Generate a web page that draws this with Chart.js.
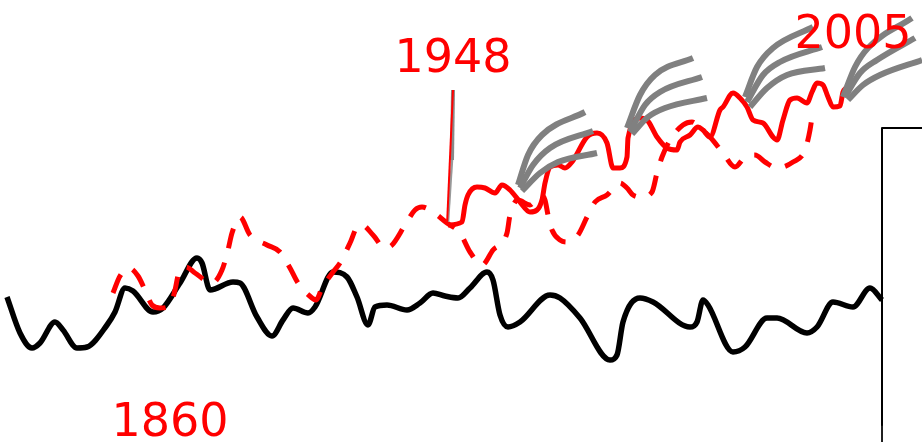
<!DOCTYPE html>
<html>
<head>
<meta charset="utf-8">
<script src="https://cdn.jsdelivr.net/npm/chart.js@4/dist/chart.umd.min.js"></script>
<style>
  html, body { margin: 0; padding: 0; background: #fff; }
  #sketch { display: block; }
</style>
</head>
<body>
<canvas id="sketch" width="922" height="442"></canvas>
<script>
// sketch units: x across, y down (same range as the picture)
const blackLine = [
  [7,297],[20,333],[32,348],[40,343],[55,322],[63,330],[77,348],[87,347],[107,325],[115,312],
  [125,288],[133,291],[153,312],[163,308],[180,283],[197,258],[202,263],[210,290],[233,282],
  [240,283],[257,317],[272,336],[283,320],[293,308],[308,313],[315,307],[333,272],[347,277],
  [357,297],[368,325],[375,307],[387,305],[407,310],[420,303],[433,293],[445,296],[458,298],
  [470,288],[487,272],[493,280],[500,315],[508,327],[520,322],[550,295],[560,298],[580,318],
  [610,360],[617,355],[623,322],[640,298],[653,302],[690,327],[697,322],[703,300],[708,305],
  [733,352],[745,347],[767,318],[777,318],[807,333],[817,327],[833,302],[853,307],[870,288],[882,300]
];

const redDashed = [
  [113,293],[120,276],[129,268],[138,276],[145,290],[152,305],[160,308],[170,306],[175,290],
  [179,272],[186,267],[195,273],[212,283],[222,270],[228,250],[232,233],[240,217],[250,235],
  [267,245],[280,252],[290,268],[298,283],[312,298],[316,300],[322,288],[333,272],[340,263],
  [350,243],[357,227],[362,225],[373,235],[385,248],[392,245],[405,225],[415,210],[422,207],
  [430,210],[447,223],[460,233],[470,252],[482,265],[493,250],[507,233],[510,215],[518,200],
  [530,205],[540,195],[545,200],[548,215],[552,230],[560,240],[567,242],[578,235],[587,217],
  [595,202],[607,195],[620,183],[627,188],[633,195],[642,197],[652,192],[657,173],[662,157],
  [670,140],[683,125],[692,122],[700,128],[710,137],[723,153],[735,167],[745,157],[755,155],
  [765,162],[777,168],[793,162],[805,150],[810,130],[813,110]
];

const redSolid = [
  [448,225],[462,222],[465,205],[468,195],[477,187],[485,188],[495,193],[502,185],[510,190],
  [520,202],[530,212],[537,210],[542,200],[545,183],[550,167],[558,165],[565,168],[572,162],
  [587,137],[597,133],[607,143],[613,168],[620,168],[627,157],[628,138],[640,118],[647,120],
  [657,137],[667,148],[677,150],[680,142],[690,135],[698,127],[703,130],[710,137],[720,110],
  [723,107],[733,93],[740,98],[747,107],[753,120],[763,123],[773,137],[777,140],[783,120],
  [790,100],[797,98],[807,103],[812,92],[817,83],[823,85],[828,97],[833,107],[840,106],[843,92],[846,88]
];

// projection fans: three curves each
const fans = [
  [[[518,185],[528,155],[542,135],[585,112]],
   [[520,188],[533,165],[550,148],[593,131]],
   [[522,191],[540,173],[558,162],[597,153]]],
  [[[627,128],[640,95],[655,75],[693,58]],
   [[630,132],[645,105],[660,92],[702,77]],
   [[632,134],[648,117],[665,108],[707,98]]],
  [[[745,97],[757,67],[773,48],[813,27]],
   [[747,102],[763,75],[780,62],[822,47]],
   [[750,107],[767,88],[787,75],[825,68]]],
  [[[843,97],[855,67],[868,48],[912,18]],
   [[845,97],[860,73],[877,60],[915,38]],
   [[848,100],[863,85],[880,75],[922,60]]]
];

const markerRed = [[453,90],[447,225]];
const markerGray = [[453,90],[452,160]];
const markerGrayThin = [[452,160],[448,222]];
const frameLine = [[922,128],[882,128],[882,425]];
const frameTail = [[882,425],[882,442]];

const yearLabels = ['1860', '1948', '2005'];
const labelX = [170, 453, 853];
const labelY = [436, 72, 48];

const toXY = pts => pts.map(p => ({ x: p[0], y: p[1] }));

const datasets = [];
datasets.push({ data: toXY(markerRed), borderColor: '#ff0000', borderWidth: 2, tension: 0, order: 0 });
datasets.push({ data: toXY(markerGray), borderColor: '#888888', borderWidth: 4, tension: 0, order: 1 });
datasets.push({ data: toXY(markerGrayThin), borderColor: '#999999', borderWidth: 2.5, tension: 0, order: 1 });
fans.forEach(fan => {
  fan.forEach(curve => {
    datasets.push({ data: toXY(curve), borderColor: '#808080', borderWidth: 6, cubicInterpolationMode: 'monotone', order: 2 });
  });
});
datasets.push({ data: toXY(redSolid), borderColor: '#ff0000', borderWidth: 5, cubicInterpolationMode: 'monotone', order: 3 });
datasets.push({ data: toXY(redDashed), borderColor: '#ff0000', borderWidth: 5, borderDash: [20, 15], cubicInterpolationMode: 'monotone', order: 4 });
datasets.push({ data: toXY(blackLine), borderColor: '#000000', borderWidth: 5.5, cubicInterpolationMode: 'monotone', order: 5 });
datasets.push({ data: toXY(frameLine), borderColor: '#000000', borderWidth: 2, tension: 0, order: 6 });
datasets.push({ data: toXY(frameTail), borderColor: '#000000', borderWidth: 1, tension: 0, order: 6 });

// year labels
const yearText = {
  id: 'yearText',
  afterDatasetsDraw(chart) {
    const ctx = chart.ctx;
    const xs = chart.scales.x, ys = chart.scales.y;
    ctx.save();
    ctx.fillStyle = '#ff0000';
    ctx.font = '46px "DejaVu Sans"';
    ctx.textAlign = 'center';
    ctx.textBaseline = 'alphabetic';
    yearLabels.forEach((t, i) => {
      ctx.fillText(t, xs.getPixelForValue(labelX[i]), ys.getPixelForValue(labelY[i]));
    });
    ctx.restore();
  }
};

new Chart(document.getElementById('sketch').getContext('2d'), {
  type: 'line',
  data: { datasets: datasets },
  options: {
    responsive: false,
    animation: false,
    events: [],
    layout: { padding: 0 },
    elements: {
      point: { radius: 0 },
      line: { fill: false, borderJoinStyle: 'round' }
    },
    plugins: { legend: { display: false }, tooltip: { enabled: false } },
    scales: {
      x: { type: 'linear', min: 0, max: 922, display: false },
      y: { type: 'linear', min: 0, max: 442, reverse: true, display: false }
    }
  },
  plugins: [yearText]
});
</script>
</body>
</html>
